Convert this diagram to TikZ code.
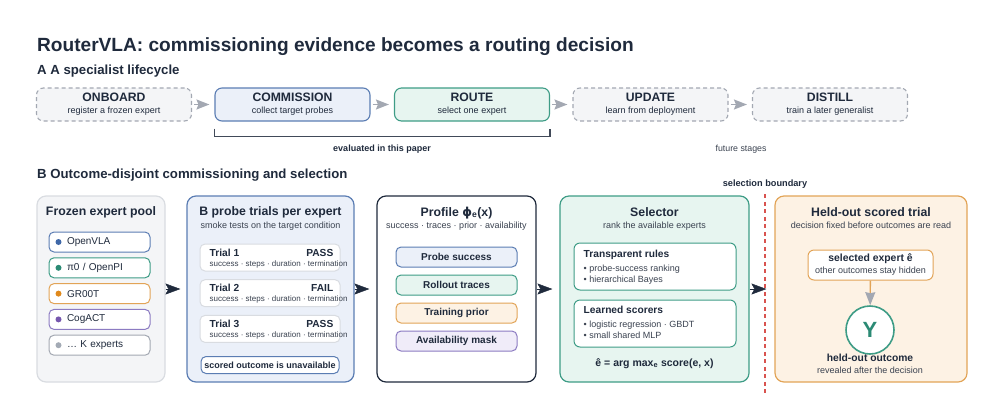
\documentclass[tikz,border=0pt]{standalone}
\usepackage{fontspec}
\setmainfont{Liberation Sans}
\newfontfamily\phifont{DejaVu Sans}
\usetikzlibrary{arrows.meta}
\usepackage{xcolor}
\definecolor{ink}{HTML}{1F2A3C}
\definecolor{subInk}{HTML}{3A4250}
\definecolor{greyLine}{HTML}{A3A8B2}
\definecolor{greyFill}{HTML}{F4F5F7}
\definecolor{poolLine}{HTML}{D9DCE1}
\definecolor{blueLine}{HTML}{5B7DB3}
\definecolor{blueFill}{HTML}{EBF0F9}
\definecolor{tealLine}{HTML}{3E9C86}
\definecolor{tealFill}{HTML}{E7F5F0}
\definecolor{orangeLine}{HTML}{E2A457}
\definecolor{orangeFill}{HTML}{FDF2E4}
\definecolor{purpleLine}{HTML}{8C7BC2}
\definecolor{purpleFill}{HTML}{F0ECF9}
\definecolor{redLine}{HTML}{D9534F}
\definecolor{blueDot}{HTML}{3F68A8}
\definecolor{tealDot}{HTML}{2B8A74}
\definecolor{orangeDot}{HTML}{E0891C}
\definecolor{purpleDot}{HTML}{7657AE}
\definecolor{greyDot}{HTML}{A3AAB5}

\newcommand{\rvTitle}{\fontsize{19.1}{22}\selectfont\bfseries}
\newcommand{\rvHead}{\fontsize{13.2}{15}\selectfont\bfseries}
\newcommand{\rvStage}{\fontsize{12.2}{13}\selectfont\bfseries}
\newcommand{\rvPanel}{\fontsize{12.3}{14}\selectfont\bfseries}
\newcommand{\rvBold}{\fontsize{10.2}{12}\selectfont\bfseries}
\newcommand{\rvItem}{\fontsize{10}{12}\selectfont}
\newcommand{\rvSub}{\fontsize{9}{10.5}\selectfont}
\newcommand{\rvTiny}{\fontsize{8}{9}\selectfont}

\begin{document}
\begin{tikzpicture}[x=1pt, y=-1pt, text=ink,
  stage/.style={rounded corners=7pt, minimum width=155pt, minimum height=33pt,
    line width=1.1pt, align=center, inner sep=0pt},
  future/.style={stage, draw=greyLine, dashed, dash pattern=on 4pt off 3pt, fill=greyFill},
  lifearrow/.style={draw=greyLine, line width=1.5pt,
    -{Stealth[length=13pt, width=10pt, inset=2pt]}, shorten <=2pt, shorten >=5pt},
  panel/.style={rounded corners=9pt, minimum height=186pt, line width=1.2pt, inner sep=0pt},
  panelarrow/.style={draw=ink, line width=0.5pt,
    -{Stealth[length=15pt, width=11pt, inset=3pt]}},
  chip/.style={rounded corners=5pt, minimum height=20pt, line width=1pt, inner sep=0pt},
  note/.style={rounded corners=6pt, draw=tealLine, fill=white, line width=1pt,
    minimum width=162pt, minimum height=47pt}]

\useasboundingbox (0,0) rectangle (1000,416);

\node[anchor=base west, inner sep=0pt, font=\rvTitle] (title) at (37,51)
  {RouterVLA: commissioning evidence becomes a routing decision};
\node[anchor=base west, inner sep=0pt, font=\rvHead] (headA) at (37,74) {A A specialist lifecycle};
\node[anchor=base west, inner sep=0pt, font=\rvHead] (headB) at (37,178)
  {B Outcome-disjoint commissioning and selection};

% A: lifecycle
\node[future] (onboard) at (114,104.5) {{\rvStage ONBOARD}\\[0pt]{\rvSub register a frozen expert}};
\node[stage, draw=blueLine, fill=blueFill] (commission) at (292.5,104.5)
  {{\rvStage COMMISSION}\\[0pt]{\rvSub collect target probes}};
\node[stage, draw=tealLine, fill=tealFill] (route) at (472,104.5)
  {{\rvStage ROUTE}\\[0pt]{\rvSub select one expert}};
\node[future] (update) at (650.5,104.5) {{\rvStage UPDATE}\\[0pt]{\rvSub learn from deployment}};
\node[future] (distill) at (830,104.5) {{\rvStage DISTILL}\\[0pt]{\rvSub train a later generalist}};

\draw[lifearrow] (onboard) -- (commission);
\draw[lifearrow] (commission) -- (route);
\draw[lifearrow] (route) -- (update);
\draw[lifearrow] (update) -- (distill);

\draw[ink!85, line width=1.3pt]
  ([yshift=-7pt]commission.south west) -- ([yshift=-15pt]commission.south west)
  -- ([yshift=-15pt]route.south east) -- ([yshift=-7pt]route.south east);
\node[anchor=base, font=\rvSub\bfseries] (evaluated) at (382,151) {evaluated in this paper};
\node[anchor=base, font=\fontsize{8.8}{10}\selectfont, text=subInk] (futurestages) at (741,151) {future stages};

% B: panels
\node[panel, draw=poolLine, fill=greyFill, minimum width=128pt] (pool) at (101,289) {};
\node[panel, draw=blueLine, fill=blueFill, minimum width=167pt] (probe) at (270.5,289) {};
\node[panel, draw=ink, fill=white, minimum width=159pt] (profile) at (456.5,289) {};
\node[panel, draw=tealLine, fill=tealFill, minimum width=189pt] (selector) at (654.5,289) {};
\node[panel, draw=orangeLine, fill=orangeFill, minimum width=192pt] (heldout) at (871,289) {};

\draw[panelarrow, shorten >=6pt] (pool) -- (probe);
\draw[panelarrow, shorten >=7pt] (probe) -- (profile);
\draw[panelarrow, shorten >=7pt] (profile) -- (selector);
\draw[panelarrow, shorten >=8pt] (selector) -- (heldout);

\node[anchor=base, font=\rvPanel] (poolT) at (101,215) {Frozen expert pool};
\node[anchor=base, font=\rvPanel] (probeT) at (270.5,215) {B probe trials per expert};
\node[anchor=base, font=\rvSub, text=subInk] (probeS) at (270.5,228) {smoke tests on the target condition};
\node[anchor=base, font=\rvPanel] (profileT) at (456.5,216)
  {Profile {\phifont\bfseries ϕ}\textsubscript{e}(x)};
\node[anchor=base, font=\rvSub, text=subInk] (profileS) at (456.5,228)
  {success · traces · prior · availability};
\node[anchor=base, font=\rvPanel] (selectorT) at (654.5,216) {Selector};
\node[anchor=base, font=\rvSub, text=subInk] (selectorS) at (654.5,228) {rank the available experts};
\node[anchor=base, font=\rvPanel] (heldoutT) at (871,216) {Held-out scored trial};
\node[anchor=base, font=\rvSub, text=subInk] (heldoutS) at (871,228)
  {decision fixed before outcomes are read};

% expert pool
\foreach \name/\lab/\col [count=\i] in {openvla/OpenVLA/blue, pizero/{π0 / OpenPI}/teal,
    groot/GR00T/orange, cogact/CogACT/purple, more/… K experts/grey} {
  \node[chip, draw=\col Line, fill=white, minimum width=101pt, text width=65pt, align=left,
    font=\rvItem] (\name) at (99.5,{242+25.8*(\i-1)}) {\lab};
  \fill[\col Dot] ([xshift=10pt]\name.west) circle (3pt);
}

% probe trials
\foreach \res [count=\i] in {PASS, FAIL, PASS} {
  \node[rounded corners=5pt, draw=poolLine, fill=white, line width=1pt,
    minimum width=140pt, minimum height=27pt] (trial\i) at (270,{257.5+35.7*(\i-1)}) {};
  \node[anchor=base west, inner sep=0pt, font=\rvBold] (trialT\i)
    at ([xshift=10pt, yshift=-12.5pt]trial\i.north west) {Trial \i};
  \node[anchor=base east, inner sep=0pt, font=\rvBold] (trialR\i)
    at ([xshift=-7pt, yshift=-12.5pt]trial\i.north east) {\res};
  \node[anchor=base west, inner sep=0pt, font=\rvTiny, text=subInk] (trialS\i)
    at ([xshift=10pt, yshift=-22.5pt]trial\i.north west) {success · steps · duration · termination};
}
\node[chip, draw=blueLine, fill=white, minimum width=138pt, minimum height=17pt,
  font=\rvSub\bfseries] (unavailable) at (270,365) {scored outcome is unavailable};

% profile
\foreach \name/\lab/\col [count=\i] in {psucc/Probe success/blue, traces/Rollout traces/teal,
    prior/Training prior/orange, mask/Availability mask/purple} {
  \node[chip, draw=\col Line, fill=\col Fill, minimum width=121pt,
    font=\fontsize{10}{12}\selectfont\bfseries] (\name) at (456.5,{257+28*(\i-1)}) {\lab};
}

% selector
\node[note] (rules) at (655,266.5) {};
\node[note] (scorers) at (655,323.5) {};
\node[anchor=base west, inner sep=0pt, font=\rvBold] (rulesT)
  at ([xshift=10pt, yshift=-15pt]rules.north west) {Transparent rules};
\node[anchor=base west, inner sep=0pt, font=\rvSub, text=subInk] (rulesL)
  at ([xshift=10pt, yshift=-29pt]rules.north west) {• probe-success ranking};
\node[anchor=base west, inner sep=0pt, font=\rvSub, text=subInk] (rulesL2)
  at ([xshift=10pt, yshift=-40pt]rules.north west) {• hierarchical Bayes};
\node[anchor=base west, inner sep=0pt, font=\rvBold] (scorersT)
  at ([xshift=10pt, yshift=-14pt]scorers.north west) {Learned scorers};
\node[anchor=base west, inner sep=0pt, font=\rvSub, text=subInk] (scorersL)
  at ([xshift=10pt, yshift=-28pt]scorers.north west) {• logistic regression · GBDT};
\node[anchor=base west, inner sep=0pt, font=\rvSub, text=subInk] (scorersL2)
  at ([xshift=10pt, yshift=-39pt]scorers.north west) {• small shared MLP};
\node[anchor=base, font=\fontsize{10.5}{12}\selectfont\bfseries] (argmax) at (654.5,366)
  {ê = arg max\textsubscript{e} score(e, x)};

% boundary
\node[anchor=base, font=\fontsize{9.2}{11}\selectfont\bfseries] (boundaryT) at (765,186) {selection boundary};
\coordinate (boundaryEnd) at (765,396);
\draw[redLine, line width=1.3pt, dash pattern=on 4pt off 3.5pt]
  ([yshift=-3pt]boundaryT.south) -- (boundaryEnd);

% held-out trial
\node[rounded corners=6pt, draw=orangeLine, fill=white, line width=1pt,
  minimum width=125pt, minimum height=30pt, align=center, inner sep=0pt] (selected) at (870.5,265)
  {{\fontsize{10.4}{11}\selectfont\bfseries selected expert ê}\\[0pt]{\rvSub\color{subInk} other outcomes stay hidden}};
\node[circle, draw=tealLine, fill=white, line width=1.6pt, minimum size=48pt,
  text=tealDot, font=\fontsize{22}{24}\selectfont\bfseries] (outcome) at (870,330) {Y};
\draw[draw=orangeLine, line width=1.3pt,
  -{Stealth[length=13pt, width=10pt, inset=1pt, fill=greyLine, color=greyLine]}]
  (selected) -- (outcome);
\node[anchor=base, font=\fontsize{10.3}{12}\selectfont\bfseries] (outcomeT) at (870,361) {held-out outcome};
\node[anchor=base, font=\rvSub, text=subInk] (outcomeS) at (870,373) {revealed after the decision};
\end{tikzpicture}
\end{document}
